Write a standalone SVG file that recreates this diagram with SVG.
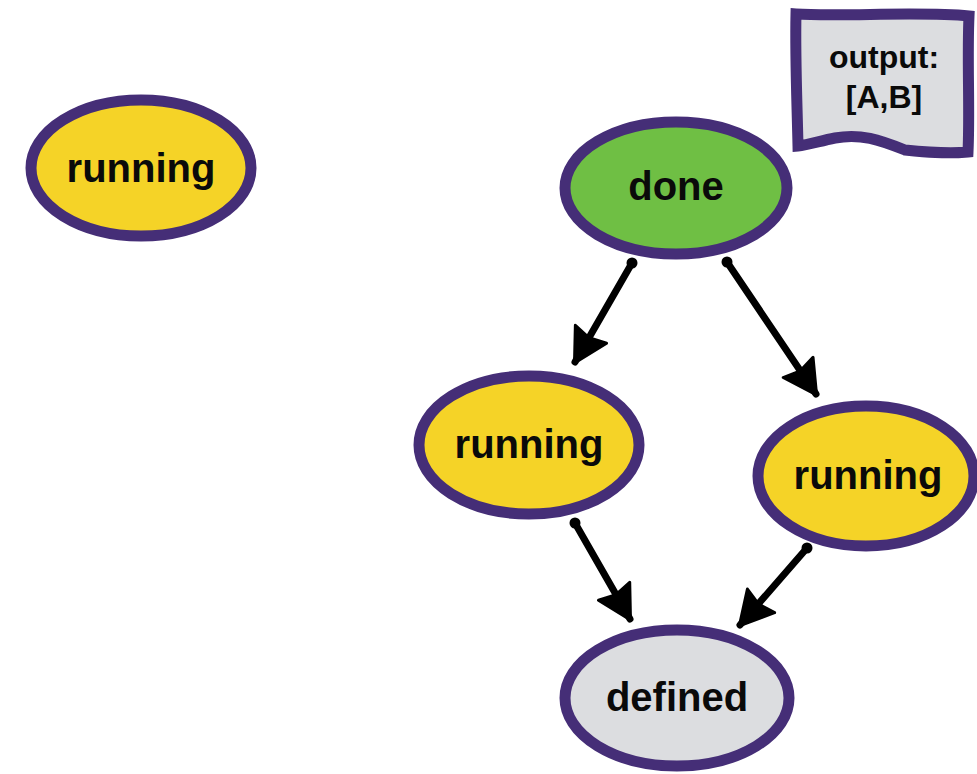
<svg xmlns="http://www.w3.org/2000/svg" width="977" height="774" viewBox="0 0 977 774">
<style>
.n{stroke:#452e77;stroke-width:11;}
.y{fill:#f5d327;}
.g{fill:#6fbf44;}
.s{fill:#dcdde0;}
text{font-family:"Liberation Sans",Arial,sans-serif;font-weight:bold;fill:#0a0a0a;text-anchor:middle;}
.t{font-size:40px;}
.o{font-size:32px;}
.e{stroke:#000;stroke-width:7;stroke-linecap:round;fill:none;}
</style>
<defs>
<marker id="ah" markerUnits="userSpaceOnUse" markerWidth="46" markerHeight="46" refX="34" refY="20" orient="auto">
<path d="M2,2 L35,20 L2,38 L6,20 Z" fill="#000" stroke="#000" stroke-width="3" stroke-linejoin="round"/>
</marker>
</defs>
<g id="running1">
<ellipse class="n y" cx="141" cy="168" rx="110" ry="68"/>
<text class="t" x="141" y="182">running</text>
</g>
<g id="done">
<ellipse class="n g" cx="676" cy="188" rx="111" ry="66"/>
<text class="t" x="676" y="200">done</text>
</g>
<g id="running2">
<ellipse class="n y" cx="529" cy="445" rx="110" ry="69"/>
<text class="t" x="529" y="458">running</text>
</g>
<g id="running3">
<ellipse class="n y" cx="866" cy="476" rx="108" ry="70"/>
<text class="t" x="868" y="489">running</text>
</g>
<g id="defined">
<ellipse class="n s" cx="677" cy="698" rx="112" ry="68"/>
<text class="t" x="677" y="711">defined</text>
</g>
<g id="output">
<path class="n s" d="M796,14 C840,17 920,11 969,16 C967,60 970,110 968,152 C945,154 925,152 905,150 C880,140 860,133 835,138 C820,141 808,145 798,146 C797,100 795,55 796,14 Z"/>
<text class="o" x="884" y="68">output:</text>
<text class="o" x="884" y="108">[A,B]</text>
</g>
<g id="connectors">
<path class="e" d="M632,263 L575,362" marker-end="url(#ah)"/>
<path class="e" d="M727,262 L816,394" marker-end="url(#ah)"/>
<path class="e" d="M575,523 L630,619" marker-end="url(#ah)"/>
<path class="e" d="M807,548 L740,625" marker-end="url(#ah)"/>
<circle cx="632" cy="263" r="5.5"/>
<circle cx="727" cy="262" r="5.5"/>
<circle cx="575" cy="523" r="5.5"/>
<circle cx="807" cy="548" r="5.5"/>
</g>
</svg>
